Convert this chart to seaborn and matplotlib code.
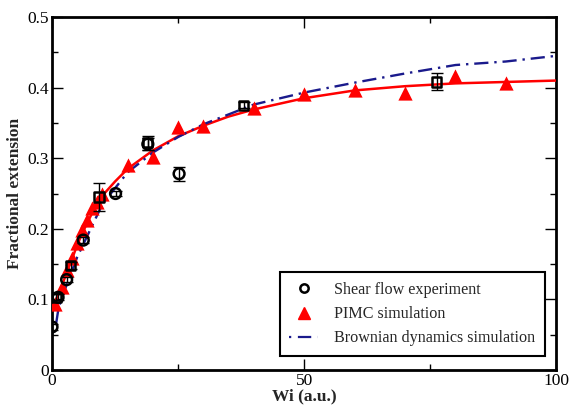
import numpy as np
import pandas as pd
import matplotlib
matplotlib.use("Agg")
import matplotlib.pyplot as plt
import seaborn as sns
from matplotlib.ticker import MultipleLocator, FuncFormatter
from matplotlib.lines import Line2D

# ---- data ----
exp_circ_x = [0.0, 1.2, 2.9, 6.2, 12.6, 19.0, 25.2]
exp_circ_y = [0.061, 0.103, 0.128, 0.184, 0.250, 0.320, 0.278]
exp_circ_err = [0.004, 0.004, 0.004, 0.004, 0.004, 0.008, 0.010]

exp_sq_x = [0.8, 3.7, 9.3, 19.0, 38.0, 76.3]
exp_sq_y = [0.103, 0.148, 0.245, 0.322, 0.375, 0.408]
exp_sq_err = [0.004, 0.005, 0.020, 0.010, 0.004, 0.012]

pimc_x = [0.5, 2, 3, 4, 5, 6, 7, 8, 9, 10, 15, 20, 25, 30, 40, 50, 60, 70, 80, 90]
pimc_y = [0.093, 0.118, 0.142, 0.158, 0.180, 0.198, 0.212, 0.229, 0.238, 0.250,
          0.291, 0.302, 0.344, 0.345, 0.371, 0.391, 0.396, 0.393, 0.417, 0.407]

fit_x = [0.3, 1, 2, 3, 4, 5, 6, 8, 10, 12.5, 15, 20, 25, 30, 35, 40, 50, 60, 70, 80, 90, 100]
fit_y = [0.090, 0.103, 0.120, 0.140, 0.158, 0.177, 0.194, 0.223, 0.247, 0.267, 0.285,
         0.311, 0.331, 0.346, 0.359, 0.369, 0.385, 0.396, 0.402, 0.406, 0.408, 0.410]

bd_x = [0.8, 1.3, 3, 5, 7, 10, 15, 20, 25, 30, 40, 50, 60, 70, 80, 90, 100]
bd_y = [0.065, 0.088, 0.123, 0.160, 0.190, 0.235, 0.280, 0.308, 0.330, 0.348,
        0.376, 0.393, 0.407, 0.420, 0.432, 0.437, 0.445]

labels = ["Shear flow experiment", "PIMC simulation", "Brownian dynamics simulation"]

# ---- style ----
sns.set_style("ticks")
plt.rcParams['font.family'] = ['Liberation Serif', 'DejaVu Serif']
plt.rcParams['mathtext.fontset'] = 'stix'

fig = plt.figure(figsize=(5.69, 4.08), dpi=100)
ax = fig.add_axes([0.0914, 0.0931, 0.8863, 0.8652])

navy = "#1a1a8c"
red = "#ff0000"

# lines
sns.lineplot(x=fit_x, y=fit_y, ax=ax, color=red, lw=1.8, zorder=3)
sns.lineplot(x=bd_x, y=bd_y, ax=ax, color=navy, lw=1.7, zorder=3)
ax.lines[-1].set_dashes([6, 2.5, 1, 2.5])

# PIMC triangles
sns.scatterplot(x=pimc_x, y=pimc_y, ax=ax, marker='^', s=105, color=red,
                edgecolor=red, linewidth=0, zorder=4)

# experimental error bars
ax.errorbar(exp_sq_x, exp_sq_y, yerr=exp_sq_err, fmt='none', ecolor='black',
            elinewidth=1, capsize=4, capthick=1, zorder=5)
ax.errorbar(exp_circ_x, exp_circ_y, yerr=exp_circ_err, fmt='none', ecolor='black',
            elinewidth=1, capsize=4, capthick=1, zorder=5)

sns.scatterplot(x=exp_sq_x, y=exp_sq_y, ax=ax, marker='s', s=45,
                facecolor='none', edgecolor='black', linewidth=1.8, zorder=6)
sns.scatterplot(x=exp_circ_x, y=exp_circ_y, ax=ax, marker='o', s=60,
                facecolor='none', edgecolor='black', linewidth=1.8, zorder=6)

# axes
ax.set_xlim(0, 100)
ax.set_ylim(0, 0.5)
ax.xaxis.set_major_locator(MultipleLocator(50))
ax.xaxis.set_minor_locator(MultipleLocator(25))
ax.yaxis.set_major_locator(MultipleLocator(0.1))
ax.yaxis.set_minor_locator(MultipleLocator(0.05))
ax.yaxis.set_major_formatter(FuncFormatter(lambda v, p: "0" if abs(v) < 1e-9 else f"{v:.1f}"))
ax.xaxis.set_major_formatter(FuncFormatter(lambda v, p: f"{v:.0f}"))
ax.tick_params(which='both', direction='in', top=True, right=True,
               labelsize=12.5, width=1, colors='black', pad=2)
ax.tick_params(which='major', length=8)
ax.tick_params(which='minor', length=4)
for sp in ax.spines.values():
    sp.set_visible(True)
    sp.set_linewidth(2)
    sp.set_color('black')

ax.set_xlabel("Wi (a.u.)", fontsize=12.5, fontweight='bold', labelpad=0)
ax.set_ylabel("Fractional extension", fontsize=12.5, fontweight='bold', labelpad=3)

# legend
h1 = Line2D([], [], marker='o', ls='none', markersize=6, markerfacecolor='none',
            markeredgecolor='black', markeredgewidth=1.8)
h2 = Line2D([], [], marker='^', ls='none', markersize=8, color=red)
h3 = Line2D([], [], color=navy, lw=1.6, dashes=[1, 3, 6, 3])
leg = ax.legend([h1, h2, h3], labels, loc='lower right',
                bbox_to_anchor=(0.978, 0.04), fontsize=11.6, frameon=True,
                fancybox=False, edgecolor='black', framealpha=1,
                handlelength=1.8, handletextpad=1.0, borderpad=0.6,
                labelspacing=0.5, borderaxespad=0)
leg.get_frame().set_linewidth(1.5)

fig.savefig("out.png", dpi=100)
